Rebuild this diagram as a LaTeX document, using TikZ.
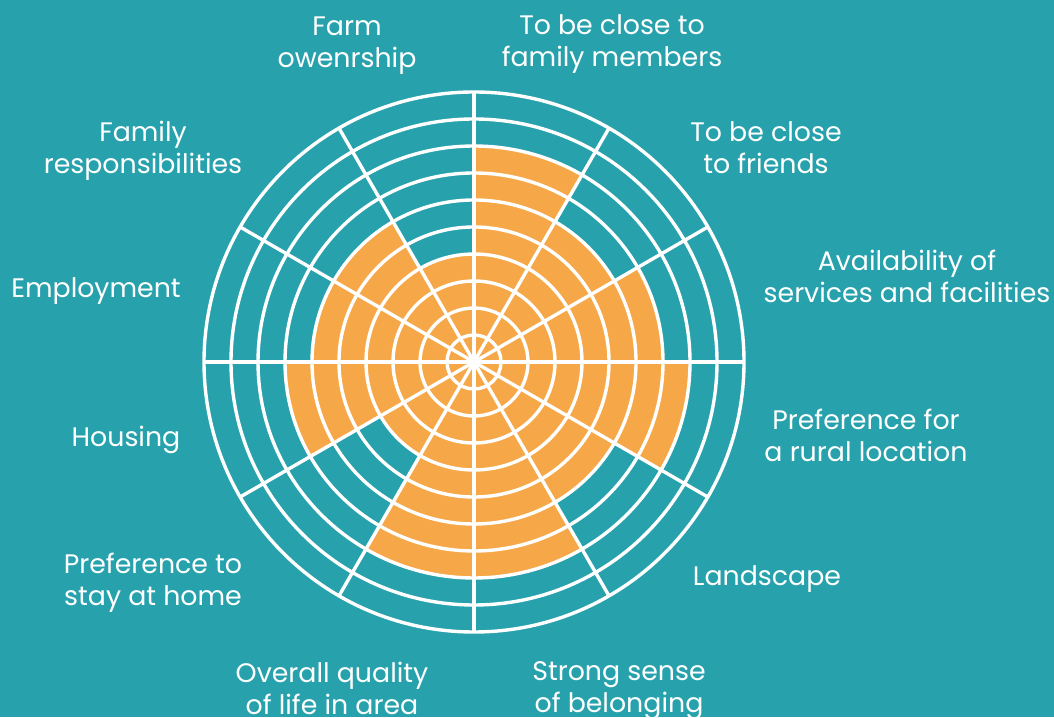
\documentclass[tikz,border=0pt]{standalone}
\usepackage{fontspec}
\setmainfont{Poppins}
\definecolor{bgteal}{RGB}{39,162,173}
\definecolor{wedgeorange}{RGB}{246,168,72}
\begin{document}
\begin{tikzpicture}[x=1pt,y=1pt,
  lbl/.style={text=white, align=center, font=\fontsize{26.8}{32}\selectfont, inner sep=0pt},
  gridline/.style={white, line width=3.4pt},
  ]
\fill[bgteal] (0,0) rectangle (1054,717);
\useasboundingbox (0,0) rectangle (1054,717);
\coordinate (C) at (474,355);
% orange wedges: start angle / number of filled rings
\foreach \a/\n in {0/7,30/6,60/8,90/4,120/6,150/6,180/7,210/4,240/8,270/8,300/6,330/8}{
  \pgfmathsetmacro\r{27*\n}
  \pgfmathsetmacro\b{\a+30}
  \fill[wedgeorange] (C) -- ++(\a:\r pt) arc[start angle=\a, end angle=\b, radius=\r pt] -- cycle;
}
% rings
\foreach \k in {1,...,10}{
  \pgfmathsetmacro\r{27*\k}
  \draw[gridline] (C) circle[radius=\r pt];
}
% spokes
\foreach \a in {0,30,...,330}{
  \draw[gridline] (C) -- ++(\a:270pt);
}
% labels
\node[lbl] (farm) at (347,671) {Farm\\owenrship};
\node[lbl] (fam) at (612,673) {To be close to\\family members};
\node[lbl] (friends) at (766,569) {To be close\\to friends};
\node[lbl] (avail) at (907,441) {Availability of\\services and facilities};
\node[lbl] (rural) at (866,282) {Preference for\\a rural location};
\node[lbl] (land) at (767,138) {Landscape};
\node[lbl] (belong) at (619,26) {Strong sense\\of belonging};
\node[lbl] (quality) at (332,29) {Overall quality\\of life in area};
\node[lbl] (stay) at (153,134) {Preference to\\stay at home};
\node[lbl] (housing) at (126,277) {Housing};
\node[lbl] (employ) at (96,426) {Employment};
\node[lbl] (famresp) at (143,566) {Family\\responsibilities};
\end{tikzpicture}
\end{document}
